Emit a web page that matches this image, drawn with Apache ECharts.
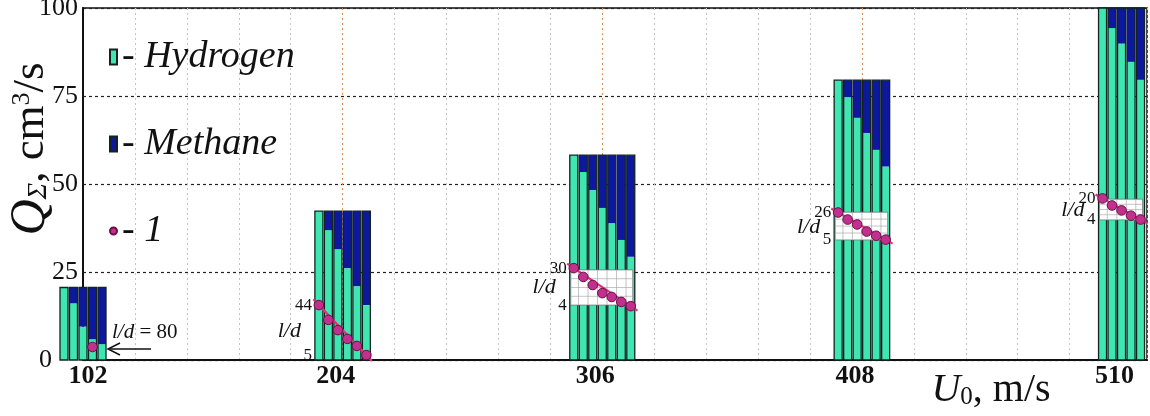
<!DOCTYPE html>
<html><head><meta charset="utf-8">
<script src="https://cdn.jsdelivr.net/npm/echarts@6/dist/echarts.min.js"></script>
<style>html,body{margin:0;padding:0;background:#fff}#c{width:1150px;height:416px}</style>
</head><body><div id="c"></div>
<script>
// ---- data ----
const groupsU0 = [102, 204, 306, 408, 510];
const xTickLabels = ['102', '204', '306', '408', '510'];
const yTicks = [0, 25, 50, 75, 100];
// total flow rate of each group (cm3/s)
const totals = [20.6, 42.3, 58.2, 79.5, 100];
// hydrogen part of each bar
const hydrogen102 = [20.6, 16.1, 9.5, 5.9, 4.5];
const hydrogen204 = [42.3, 36.9, 31.5, 26.1, 21.0, 15.6];
const hydrogen306 = [58.2, 53.4, 48.3, 43.2, 38.9, 34.1, 29.3];
const hydrogen408 = [79.5, 74.7, 68.8, 64.5, 59.7, 55.0];
const hydrogen510 = [100, 94.3, 89.9, 84.7, 79.6];
// series "1" (points, in Q units of the main axis)
const points102 = [null, null, null, 3.7, null];
const points204 = [15.6, 11.4, 8.5, 6.0, 4.0, 1.4];
const points306 = [26.1, 23.6, 21.3, 19.0, 17.9, 16.5, 15.3];
const points408 = [41.9, 39.9, 38.5, 36.5, 35.3, 34.2];
const points510 = [45.9, 43.9, 42.5, 41.0, 39.9];
// l/d inset scales
const insetTop = [null, null, 25.6, 42.0, 45.7];
const insetBottom = [null, null, 15.6, 34.1, 39.8];
const ldMax = ['80', '44', '30', '26', '20'];
const ldMin = ['', '5', '4', '5', '4'];

const hydrogen = [hydrogen102, hydrogen204, hydrogen306, hydrogen408, hydrogen510];
const points = [points102, points204, points306, points408, points510];

// ---- styles ----
const F = "'Liberation Serif','Times New Roman',serif";
const TEAL = '#3ee6b2', NAVY = '#0c199f', EDGE = '#13241f';
const PINK = '#c2308e', PINKLINE = '#e0307a';
const PITCH = 9.5, BW = 8;

const hydData = [], methData = [], ptData = [], annData = [];
groupsU0.forEach((U, g) => {
  const hs = hydrogen[g], n = hs.length;
  hs.forEach((h, i) => {
    hydData.push([U, i, n, h, totals[g]]);
    methData.push([U, i, n, h, totals[g]]);
    const p = points[g][i];
    if (p != null) ptData.push([U, i, n, p]);
  });
  const pts = points[g].map((p, i) => [i, p]).filter(d => d[1] != null);
  const f = pts[0], l = pts[pts.length - 1];
  annData.push([U, n, g, f[0], f[1], l[0], l[1],
    insetTop[g] == null ? NaN : insetTop[g], insetBottom[g] == null ? NaN : insetBottom[g]]);
});

function barX(api, U, i, n) { return api.coord([U, 0])[0] + (i - (n - 1) / 2) * PITCH; }

const chart = echarts.init(document.getElementById('c'), null, { renderer: 'canvas' });
chart.setOption({
  animation: false,
  backgroundColor: '#fff',
  grid: { left: 83, right: 3, top: 8, bottom: 56, show: true, borderColor: '#111', borderWidth: 1.5,
    containLabel: false, outerBoundsMode: 'none' },
  legend: {
    orient: 'vertical', left: 104, top: 31, itemWidth: 7, itemHeight: 15, itemGap: 45,
    selectedMode: false,
    formatter: n => '- ' + n,
    textStyle: { fontFamily: F, fontStyle: 'italic', fontSize: 38, color: '#111', lineHeight: 42 },
    data: [{ name: 'Hydrogen', icon: 'rect' }, { name: 'Methane', icon: 'rect' }, { name: '1', icon: 'circle' }]
  },
  xAxis: {
    type: 'value', min: 102, max: 520, interval: 20.4,
    axisLine: { show: true, lineStyle: { color: '#111', width: 2 } },
    axisTick: { show: false },
    splitLine: { show: true, lineStyle: { color: ['#d8905a', '#c4c4c4', '#c4c4c4', '#c4c4c4', '#c4c4c4'], type: [2, 3], width: 1 } },
    axisLabel: {
      margin: 3, showMinLabel: true, showMaxLabel: true,
      formatter: v => {
        const k = Math.round(v / 102);
        if (Math.abs(v - 102 * k) < 0.01 && k >= 1 && k <= 5) return (k === 1 ? '{a|' : '{b|') + xTickLabels[k - 1] + '}';
        return '';
      },
      rich: {
        a: { fontFamily: F, fontWeight: 'bold', fontSize: 26, color: '#111', padding: [0, 0, 0, 10] },
        b: { fontFamily: F, fontWeight: 'bold', fontSize: 26, color: '#111', padding: [0, 14, 0, 0] }
      }
    },
    name: '{u|U}{s|0}{n|, m/s}', nameLocation: 'middle', nameGap: 10, nameMoveOverlap: false,
    nameTextStyle: {
      padding: [0, 0, 0, 752],
      rich: {
        u: { fontFamily: F, fontStyle: 'italic', fontSize: 40, color: '#111' },
        s: { fontFamily: F, fontSize: 25, color: '#111', verticalAlign: 'bottom' },
        n: { fontFamily: F, fontSize: 40, color: '#111' }
      }
    }
  },
  yAxis: {
    type: 'value', min: yTicks[0], max: yTicks[yTicks.length - 1], interval: 25,
    axisLine: { show: true, lineStyle: { color: '#111', width: 2 } },
    axisTick: { show: false },
    splitLine: { show: true, lineStyle: { color: '#222', type: [3, 3], width: 1.2 } },
    axisLabel: {
      margin: 5, fontFamily: F, fontSize: 26, color: '#111',
      formatter: v => v === 0 ? '{z|0}' : String(v),
      rich: { z: { fontFamily: F, fontSize: 26, color: '#111', padding: [0, 26, 0, 0] } }
    },
    name: '{q|Q}{s|Σ}{n|, cm}{p|3}{n|/s}', nameLocation: 'middle', nameRotate: 90, nameGap: 30, nameMoveOverlap: false,
    nameTextStyle: {
      padding: [0, 0, 0, 70],
      rich: {
        q: { fontFamily: F, fontStyle: 'italic', fontSize: 50, color: '#111', lineHeight: 44 },
        s: { fontFamily: F, fontStyle: 'italic', fontSize: 28, color: '#111', verticalAlign: 'bottom', lineHeight: 44 },
        n: { fontFamily: F, fontSize: 45, color: '#111', lineHeight: 44 },
        p: { fontFamily: F, fontSize: 26, color: '#111', verticalAlign: 'top', lineHeight: 44 }
      }
    }
  },
  series: [
    {
      name: 'Hydrogen', type: 'custom', z: 2, data: hydData, encode: { x: 0, y: 3 },
      itemStyle: { color: TEAL, borderColor: EDGE, borderWidth: 1 },
      renderItem: (params, api) => {
        const U = api.value(0), i = api.value(1), n = api.value(2), h = api.value(3);
        const cx = barX(api, U, i, n);
        const y0 = api.coord([U, 0])[1], y1 = api.coord([U, h])[1];
        return { type: 'rect', shape: { x: cx - BW / 2, y: y1, width: BW, height: y0 - y1 }, style: { fill: TEAL } };
      }
    },
    {
      name: 'Methane', type: 'custom', z: 2, data: methData, encode: { x: 0, y: 4 },
      itemStyle: { color: NAVY, borderColor: EDGE, borderWidth: 1 },
      renderItem: (params, api) => {
        const U = api.value(0), i = api.value(1), n = api.value(2), h = api.value(3), t = api.value(4);
        const cx = barX(api, U, i, n);
        const y0 = api.coord([U, 0])[1], yh = api.coord([U, h])[1], yt = api.coord([U, t])[1];
        return {
          type: 'group', children: [
            { type: 'rect', shape: { x: cx - BW / 2, y: yt, width: BW, height: yh - yt }, style: { fill: NAVY } },
            { type: 'rect', shape: { x: cx - BW / 2, y: yt, width: BW, height: y0 - yt }, style: { fill: null, stroke: EDGE, lineWidth: 1.3 } }
          ]
        };
      }
    },
    {
      name: 'annotations', type: 'custom', z: 3, data: annData, encode: { x: 0, y: 4 }, silent: true,
      renderItem: (params, api) => {
        const U = api.value(0), n = api.value(1), g = api.value(2);
        const fi = api.value(3), fq = api.value(4), li = api.value(5), lq = api.value(6);
        const it = api.value(7), ib = api.value(8);
        const left = barX(api, U, 0, n) - BW / 2, right = barX(api, U, n - 1, n) + BW / 2;
        const fx = barX(api, U, fi, n), fy = api.coord([U, fq])[1];
        const lx = barX(api, U, li, n), ly = api.coord([U, lq])[1];
        const ch = [];
        const txt = (x, y, text, size, style, align) => ({
          type: 'text', style: { x, y, text, fill: '#111', font: (style || '') + ' ' + size + 'px ' + F, align: align || 'right', verticalAlign: 'middle' }
        });
        if (g === 0) {
          ch.push({ type: 'text', style: { x: right + 6, y: fy - 14, text: '{i|l/d}{r| = 80}', align: 'left', verticalAlign: 'middle',
            rich: { i: { font: 'italic 21px ' + F, fill: '#111' }, r: { font: '21px ' + F, fill: '#111' } } } });
          ch.push({ type: 'line', shape: { x1: right + 45, y1: fy + 2, x2: right + 4, y2: fy + 2 }, style: { stroke: '#111', lineWidth: 1.5 } });
          ch.push({ type: 'polyline', shape: { points: [[right + 14, fy - 4], [right + 2, fy + 2], [right + 14, fy + 8]] }, style: { stroke: '#111', lineWidth: 1.5, fill: null } });
          return { type: 'group', children: ch };
        }
        let lowY = ly;
        if (!isNaN(it)) {
          const yt = api.coord([U, it])[1], yb = api.coord([U, ib])[1];
          const bl = left + 1, br = right - 2;
          lowY = yb;
          ch.push({ type: 'rect', shape: { x: bl, y: yt, width: br - bl, height: yb - yt }, style: { fill: '#fff', stroke: '#777', lineWidth: 0.8 } });
          for (let k = 1; k < 4; k++) {
            const yy = yt + (yb - yt) * k / 4;
            ch.push({ type: 'line', shape: { x1: bl, y1: yy, x2: br, y2: yy }, style: { stroke: '#aaa', lineWidth: 0.7 } });
          }
          for (let k = 0; k < n - 1; k++) {
            const xx = barX(api, U, k, n) + PITCH / 2;
            ch.push({ type: 'line', shape: { x1: xx, y1: yt, x2: xx, y2: yb }, style: { stroke: '#aaa', lineWidth: 0.7 } });
          }
        }
        const dx = lx - fx, dy = ly - fy, len = Math.sqrt(dx * dx + dy * dy) || 1, ext = 8;
        ch.push({ type: 'line', shape: { x1: fx - dx / len * ext, y1: fy - dy / len * ext, x2: lx + dx / len * ext, y2: ly + dy / len * ext },
          style: { stroke: PINKLINE, lineWidth: 2.2 } });
        ch.push(txt(left - 3, fy, ldMax[g], 17, ''));
        ch.push(txt(left - 3, lowY, ldMin[g], 17, ''));
        ch.push(txt(left - 14, (fy + lowY) / 2 + 1, 'l/d', 22, 'italic'));
        return { type: 'group', children: ch };
      }
    },
    {
      name: '1', type: 'custom', z: 4, data: ptData, encode: { x: 0, y: 3 },
      itemStyle: { color: PINK, borderColor: '#6a0f48', borderWidth: 1 },
      renderItem: (params, api) => {
        const U = api.value(0), i = api.value(1), n = api.value(2), q = api.value(3);
        const cx = barX(api, U, i, n), cy = api.coord([U, q])[1];
        return { type: 'circle', shape: { cx, cy, r: 4.8 }, style: { fill: PINK, stroke: '#6a0f48', lineWidth: 1 } };
      }
    }
  ]
});
</script>
</body></html>
